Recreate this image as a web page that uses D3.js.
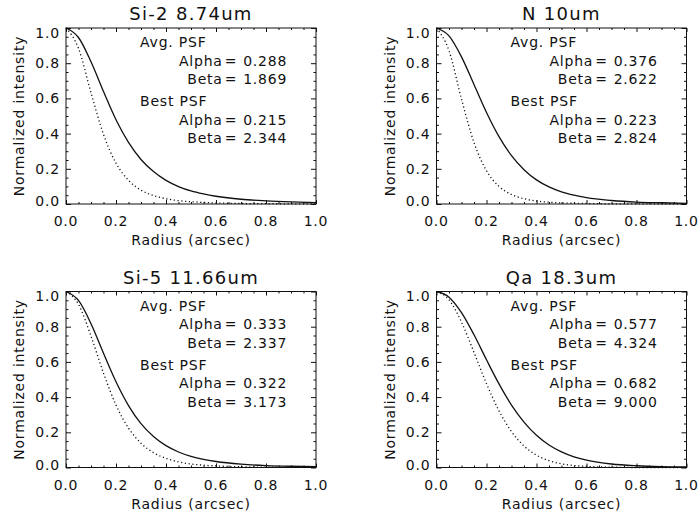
<!DOCTYPE html>
<html>
  <head>
    <meta charset="utf-8">
    <title>PSF radial profiles</title>
    <script src="https://d3js.org/d3.v7.min.js"></script>
    <style>
      body { margin: 0; background: #fff; }
      text { font-family: "DejaVu Sans", sans-serif; fill: #111; }
    </style>
  </head>
  <body>
    <div id="psfChart"></div>
    <script>
      // radius (arcsec) where the profiles were read
      const radius = [0, 0.05, 0.1, 0.15, 0.2, 0.25, 0.3, 0.35, 0.4, 0.45, 0.5, 0.55, 0.6, 0.7, 0.8, 0.9, 1.0];

      const titles = ["Si-2 8.74um", "N 10um", "Si-5 11.66um", "Qa 18.3um"];
      const avgAlpha  = [0.288, 0.376, 0.333, 0.577];
      const avgBeta   = [1.869, 2.622, 2.337, 4.324];
      const bestAlpha = [0.215, 0.223, 0.322, 0.682];
      const bestBeta  = [2.344, 2.824, 3.173, 9.000];

      // solid curves (Avg. PSF)
      const avgProfiles = [
        [1, 0.946, 0.808, 0.639, 0.479, 0.350, 0.253, 0.184, 0.134, 0.099, 0.074, 0.057, 0.044, 0.027, 0.018, 0.012, 0.008],
        [1, 0.955, 0.836, 0.679, 0.520, 0.383, 0.275, 0.195, 0.137, 0.097, 0.069, 0.050, 0.036, 0.020, 0.011, 0.007, 0.004],
        [1, 0.949, 0.817, 0.649, 0.487, 0.352, 0.249, 0.176, 0.124, 0.088, 0.063, 0.046, 0.034, 0.019, 0.011, 0.007, 0.005],
        [1, 0.968, 0.880, 0.754, 0.612, 0.475, 0.355, 0.258, 0.183, 0.128, 0.089, 0.061, 0.042, 0.020, 0.010, 0.005, 0.003]
      ];
      // dotted curves (Best PSF)
      const bestProfiles = [
        [1, 0.884, 0.632, 0.395, 0.232, 0.135, 0.079, 0.048, 0.030, 0.019, 0.013, 0.009, 0.006, 0.003, 0.002, 0.001, 0.001],
        [1, 0.871, 0.596, 0.349, 0.189, 0.100, 0.054, 0.030, 0.017, 0.010, 0.006, 0.004, 0.003, 0.001, 0.001, 0.000, 0.000],
        [1, 0.927, 0.747, 0.536, 0.355, 0.224, 0.138, 0.084, 0.052, 0.032, 0.020, 0.013, 0.009, 0.004, 0.002, 0.001, 0.001],
        [1, 0.953, 0.826, 0.654, 0.476, 0.322, 0.204, 0.122, 0.070, 0.039, 0.021, 0.011, 0.006, 0.002, 0.000, 0.000, 0.000]
      ];

      const xTicks = [0, 0.2, 0.4, 0.6, 0.8, 1.0];
      const yTicks = [0, 0.2, 0.4, 0.6, 0.8, 1.0];
      const minorTicks = [0.05, 0.1, 0.15, 0.25, 0.3, 0.35, 0.45, 0.5, 0.55, 0.65, 0.7, 0.75, 0.85, 0.9, 0.95];

      const width = 698, height = 517;
      const panelW = 250, panelH = 176;
      const panels = [
        {left: 66, top: 28},
        {left: 436.5, top: 28},
        {left: 66, top: 291.5},
        {left: 436.5, top: 291.5}
      ];

      const svg = d3.select("#psfChart")
                    .append("svg")
                    .attr("width", width)
                    .attr("height", height);

      const fmt1 = d3.format(".1f");
      const fmt3 = d3.format(".3f");

      panels.forEach((p, i) => {
        const x = d3.scaleLinear().domain([0, 1]).range([p.left, p.left + panelW]);
        const y = d3.scaleLinear().domain([0, 1]).range([p.top + panelH, p.top]);
        const g = svg.append("g");

        // title
        g.append("text")
         .attr("x", p.left + panelW / 2)
         .attr("y", p.top - 8)
         .attr("text-anchor", "middle")
         .attr("font-size", 18)
         .attr("letter-spacing", 1.3)
         .text(titles[i]);

        // ticks on all four sides, pointing inward
        const tickAxis = (gen, tx, ty) => {
          const a = g.append("g")
                     .attr("transform", `translate(${tx}, ${ty})`)
                     .call(gen);
          a.select(".domain").remove();
          a.selectAll("line").attr("stroke", "#111");
        };
        tickAxis(d3.axisBottom(x).tickValues(xTicks).tickSize(-4).tickFormat(""), 0, y(0));
        tickAxis(d3.axisBottom(x).tickValues(minorTicks).tickSize(-2).tickFormat(""), 0, y(0));
        tickAxis(d3.axisTop(x).tickValues(xTicks).tickSize(-4).tickFormat(""), 0, y(1));
        tickAxis(d3.axisTop(x).tickValues(minorTicks).tickSize(-2).tickFormat(""), 0, y(1));
        tickAxis(d3.axisLeft(y).tickValues(yTicks).tickSize(-5).tickFormat(""), x(0), 0);
        tickAxis(d3.axisLeft(y).tickValues(minorTicks).tickSize(-2.5).tickFormat(""), x(0), 0);
        tickAxis(d3.axisRight(y).tickValues(yTicks).tickSize(-5).tickFormat(""), x(1), 0);
        tickAxis(d3.axisRight(y).tickValues(minorTicks).tickSize(-2.5).tickFormat(""), x(1), 0);

        // frame
        g.append("rect")
         .attr("x", x(0))
         .attr("y", y(1))
         .attr("width", x(1) - x(0))
         .attr("height", y(0) - y(1))
         .attr("fill", "none")
         .attr("stroke", "#111")
         .attr("stroke-width", 1);

        // tick labels
        g.selectAll(".xlab")
         .data(xTicks)
         .join("text")
         .attr("class", "xlab")
         .attr("x", d => x(d))
         .attr("y", y(0) + 22)
         .attr("text-anchor", "middle")
         .attr("font-size", 14)
         .attr("letter-spacing", 0.8)
         .text(fmt1);

        g.selectAll(".ylab")
         .data(yTicks)
         .join("text")
         .attr("class", "ylab")
         .attr("x", x(0) - 6)
         .attr("y", d => Math.min(Math.max(y(d), y(1) + 4.5), y(0) - 3) + 5)
         .attr("text-anchor", "end")
         .attr("font-size", 14)
         .attr("letter-spacing", 0.8)
         .text(fmt1);

        // axis titles
        g.append("text")
         .attr("x", p.left + panelW / 2)
         .attr("y", y(0) + 41)
         .attr("text-anchor", "middle")
         .attr("font-size", 14)
         .attr("letter-spacing", 0.8)
         .text("Radius (arcsec)");

        g.append("text")
         .attr("transform", `translate(${p.left - 42}, ${p.top + panelH / 2}) rotate(-90)`)
         .attr("text-anchor", "middle")
         .attr("font-size", 14)
         .attr("letter-spacing", 0.8)
         .text("Normalized intensity");

        // profiles
        const line = d3.line()
                       .x((d, k) => x(radius[k]))
                       .y(d => y(d))
                       .curve(d3.curveMonotoneX);

        g.append("path")
         .attr("d", line(avgProfiles[i]))
         .attr("fill", "none")
         .attr("stroke", "#111")
         .attr("stroke-width", 1.3);

        g.append("path")
         .attr("d", line(bestProfiles[i]))
         .attr("fill", "none")
         .attr("stroke", "#111")
         .attr("stroke-width", 1.3)
         .attr("stroke-dasharray", "1.2,2.6");

        // fit parameters
        const rows = [
          {head: "Avg. PSF", v: 0.89},
          {name: "Alpha", val: avgAlpha[i], v: 0.785},
          {name: "Beta", val: avgBeta[i], v: 0.68},
          {head: "Best PSF", v: 0.555},
          {name: "Alpha", val: bestAlpha[i], v: 0.45},
          {name: "Beta", val: bestBeta[i], v: 0.345}
        ];
        rows.forEach(r => {
          const t = (txt, xv, anchor) => g.append("text")
                                          .attr("x", x(xv))
                                          .attr("y", y(r.v))
                                          .attr("text-anchor", anchor)
                                          .attr("font-size", 14)
                                          .attr("letter-spacing", 0.8)
                                          .text(txt);
          if (r.head) {
            t(r.head, 0.296, "start");
          } else {
            t(r.name, 0.627, "end");
            t("=", 0.66, "middle");
            t(fmt3(r.val), 0.885, "end");
          }
        });
      });
    </script>
  </body>
</html>
